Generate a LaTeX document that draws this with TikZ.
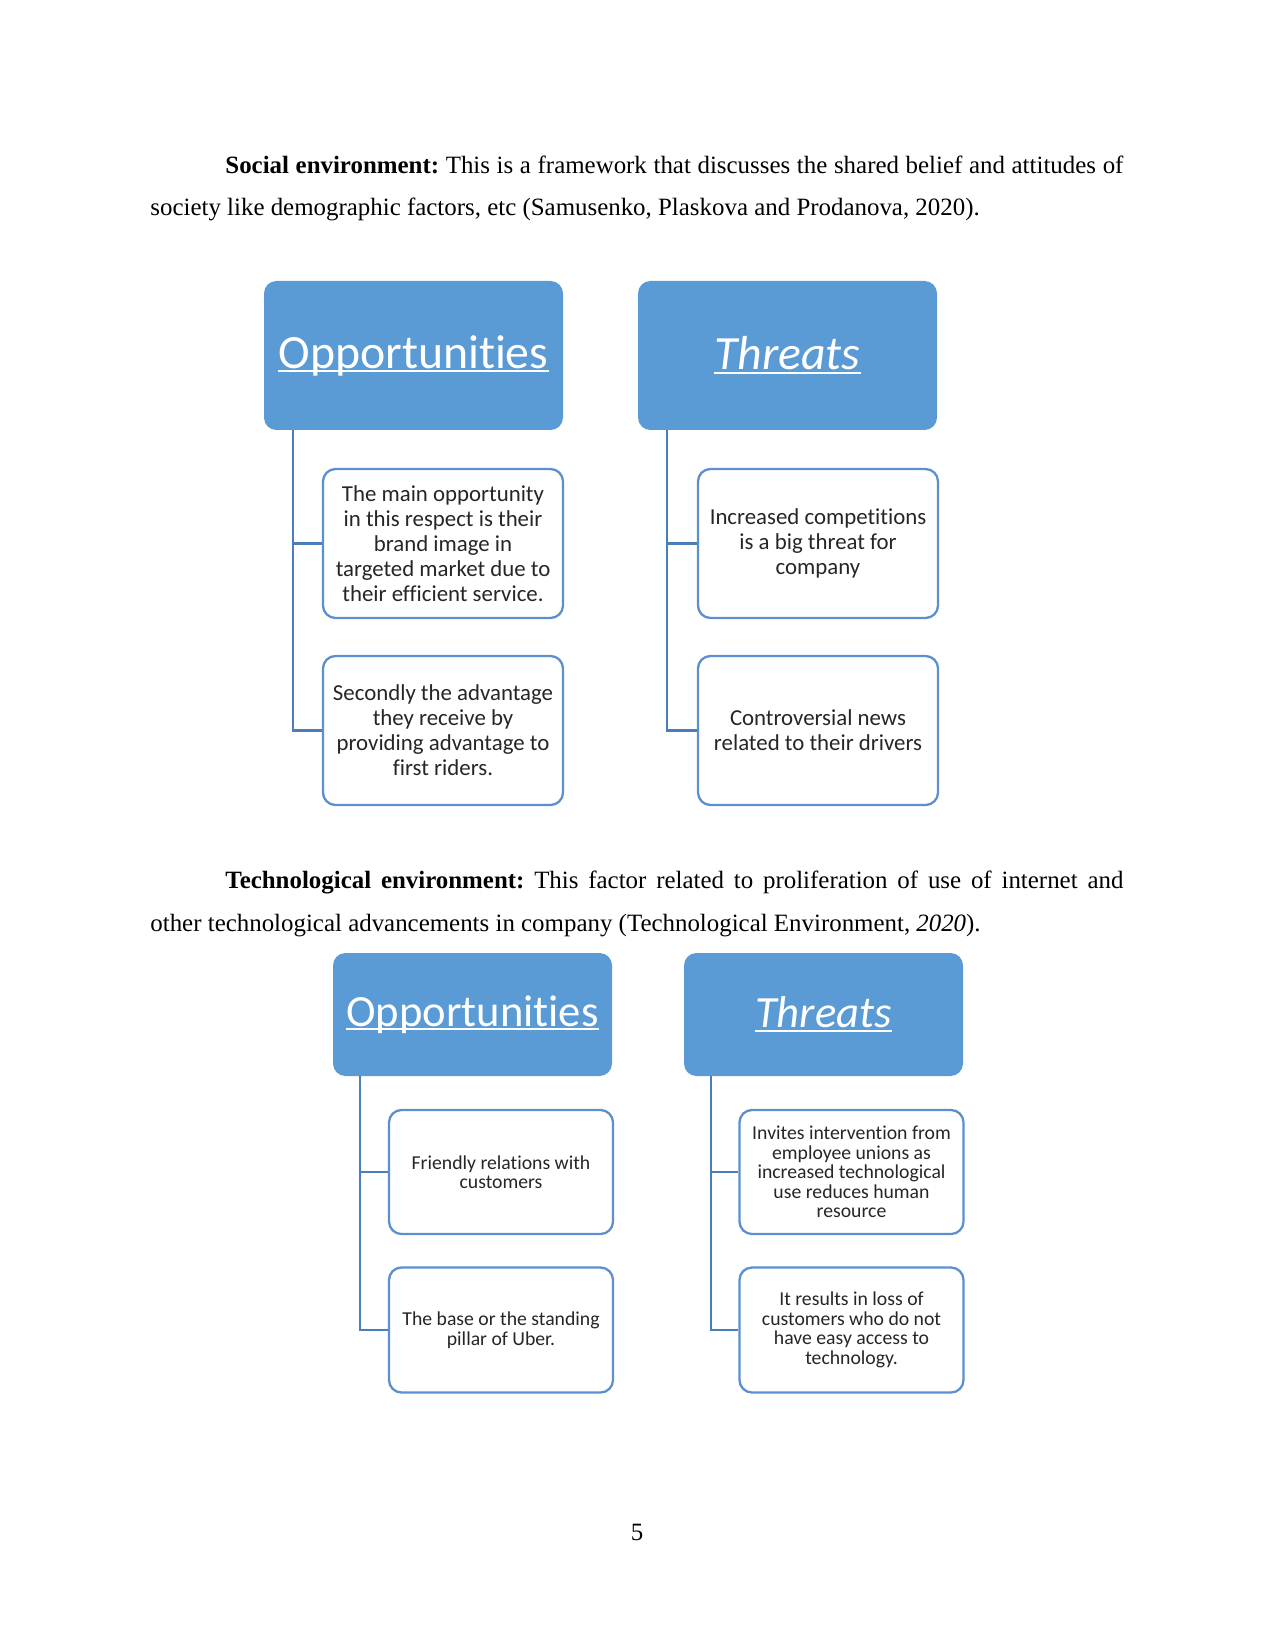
\documentclass[tikz,border=0pt]{standalone}
\usepackage{fontspec}
\setmainfont{Liberation Serif}
\newfontfamily\boxfont[Ligatures=NoCommon]{Carlito}
\usetikzlibrary{positioning}
\definecolor{hdrblue}{HTML}{5B9BD5}
\definecolor{edgeblue}{HTML}{5B8FCF}
\definecolor{lineblue}{HTML}{4A7EBB}
\newdimen\px
\px=0.4818pt
\newcommand{\lnk}[1]{\setbox0\hbox{#1}\rlap{\rule[-0.09em]{\wd0}{0.055em}}\box0}
\frenchspacing
\tikzset{
  header/.style 2 args={
    shape = rectangle,
    rounded corners = 6pt,
    fill = hdrblue,
    text = white,
    inner sep = 0pt,
    minimum width = #1*\px,
    minimum height = #2*\px
  },
  item/.style 2 args={
    shape = rectangle,
    rounded corners = 6pt,
    draw = edgeblue,
    line width = 1.1pt,
    fill = white,
    text = black!85,
    align = center,
    inner sep = 0pt,
    minimum width = #1*\px,
    minimum height = #2*\px
  },
  branch/.style={
    draw = lineblue,
    line width = 1pt
  },
  bodyline/.style={
    anchor = base west,
    inner sep = 0pt,
    font = \fontsize{12}{14}\selectfont
  }
}

\begin{document}
\begin{tikzpicture}[x=\px, y=-\px]
    \useasboundingbox (0,0) rectangle (1275,1651);
    % social environment
    \node[bodyline] (s1) at (225,174) {\makebox[898\px][s]{\textbf{Social environment:} This is a framework that discusses the shared belief and attitudes of}};
    \node[bodyline] (s2) at (150,216) {society like demographic factors, etc (Samusenko, Plaskova and Prodanova, 2020).};
    \begin{scope}[font=\boxfont\fontsize{11}{12}\selectfont]
        \node[header={299}{149}, font=\boxfont\fontsize{23}{28}\selectfont] (oh1) at (413.5,355.5) {\lnk{Opportunities}};
        \node[header={299}{149}, font=\boxfont\itshape\fontsize{23}{28}\selectfont] (th1) at (787.5,355.5) {\lnk{Threats}};
        \node[item={240}{149}] (oc1) at (443,543.5) {The main opportunity\\in this respect is their\\brand image in\\targeted market due to\\their efficient service.};
        \node[item={240}{149}] (oc2) at (443,730.5) {Secondly the advantage\\they receive by\\providing advantage to\\first riders.};
        \node[item={240}{149}] (tc1) at (818,543.5) {Increased competitions\\is a big threat for\\company};
        \node[item={240}{149}] (tc2) at (818,730.5) {Controversial news\\related to their drivers};
        \draw[branch] ([xshift=14pt]oh1.south west) |- (oc1.west);
        \draw[branch] ([xshift=14pt]oh1.south west) |- (oc2.west);
        \draw[branch] ([xshift=14pt]th1.south west) |- (tc1.west);
        \draw[branch] ([xshift=14pt]th1.south west) |- (tc2.west);
    \end{scope}
    % technological environment
    \node[bodyline] (t1) at (225,888) {\makebox[898\px][s]{\textbf{Technological environment:} This factor related to proliferation of use of internet and}};
    \node[bodyline] (t2) at (150,931) {other technological advancements in company (Technological Environment, \textit{2020}).};
    \begin{scope}[font=\boxfont\fontsize{9.5}{9.4}\selectfont]
        \node[header={279}{123}, font=\boxfont\fontsize{21.5}{26}\selectfont] (oh2) at (472.5,1014.5) {\lnk{Opportunities}};
        \node[header={279}{123}, font=\boxfont\itshape\fontsize{21.5}{26}\selectfont] (th2) at (823.5,1014.5) {\lnk{Threats}};
        \node[item={224}{124}] (oc3) at (501,1172) {Friendly relations with\\customers};
        \node[item={224}{125}] (oc4) at (501,1330) {The base or the standing\\pillar of Uber.};
        \node[item={224}{124}] (tc3) at (851.5,1172) {Invites intervention from\\employee unions as\\increased technological\\use reduces human\\resource};
        \node[item={224}{125}] (tc4) at (851.5,1330) {It results in loss of\\customers who do not\\have easy access to\\technology.};
        \draw[branch] ([xshift=13pt]oh2.south west) |- (oc3.west);
        \draw[branch] ([xshift=13pt]oh2.south west) |- (oc4.west);
        \draw[branch] ([xshift=13pt]th2.south west) |- (tc3.west);
        \draw[branch] ([xshift=13pt]th2.south west) |- (tc4.west);
    \end{scope}
    \node[anchor=base, inner sep=0pt, font=\fontsize{12}{14}\selectfont] (pg) at (637,1540) {5};
\end{tikzpicture}
\end{document}
